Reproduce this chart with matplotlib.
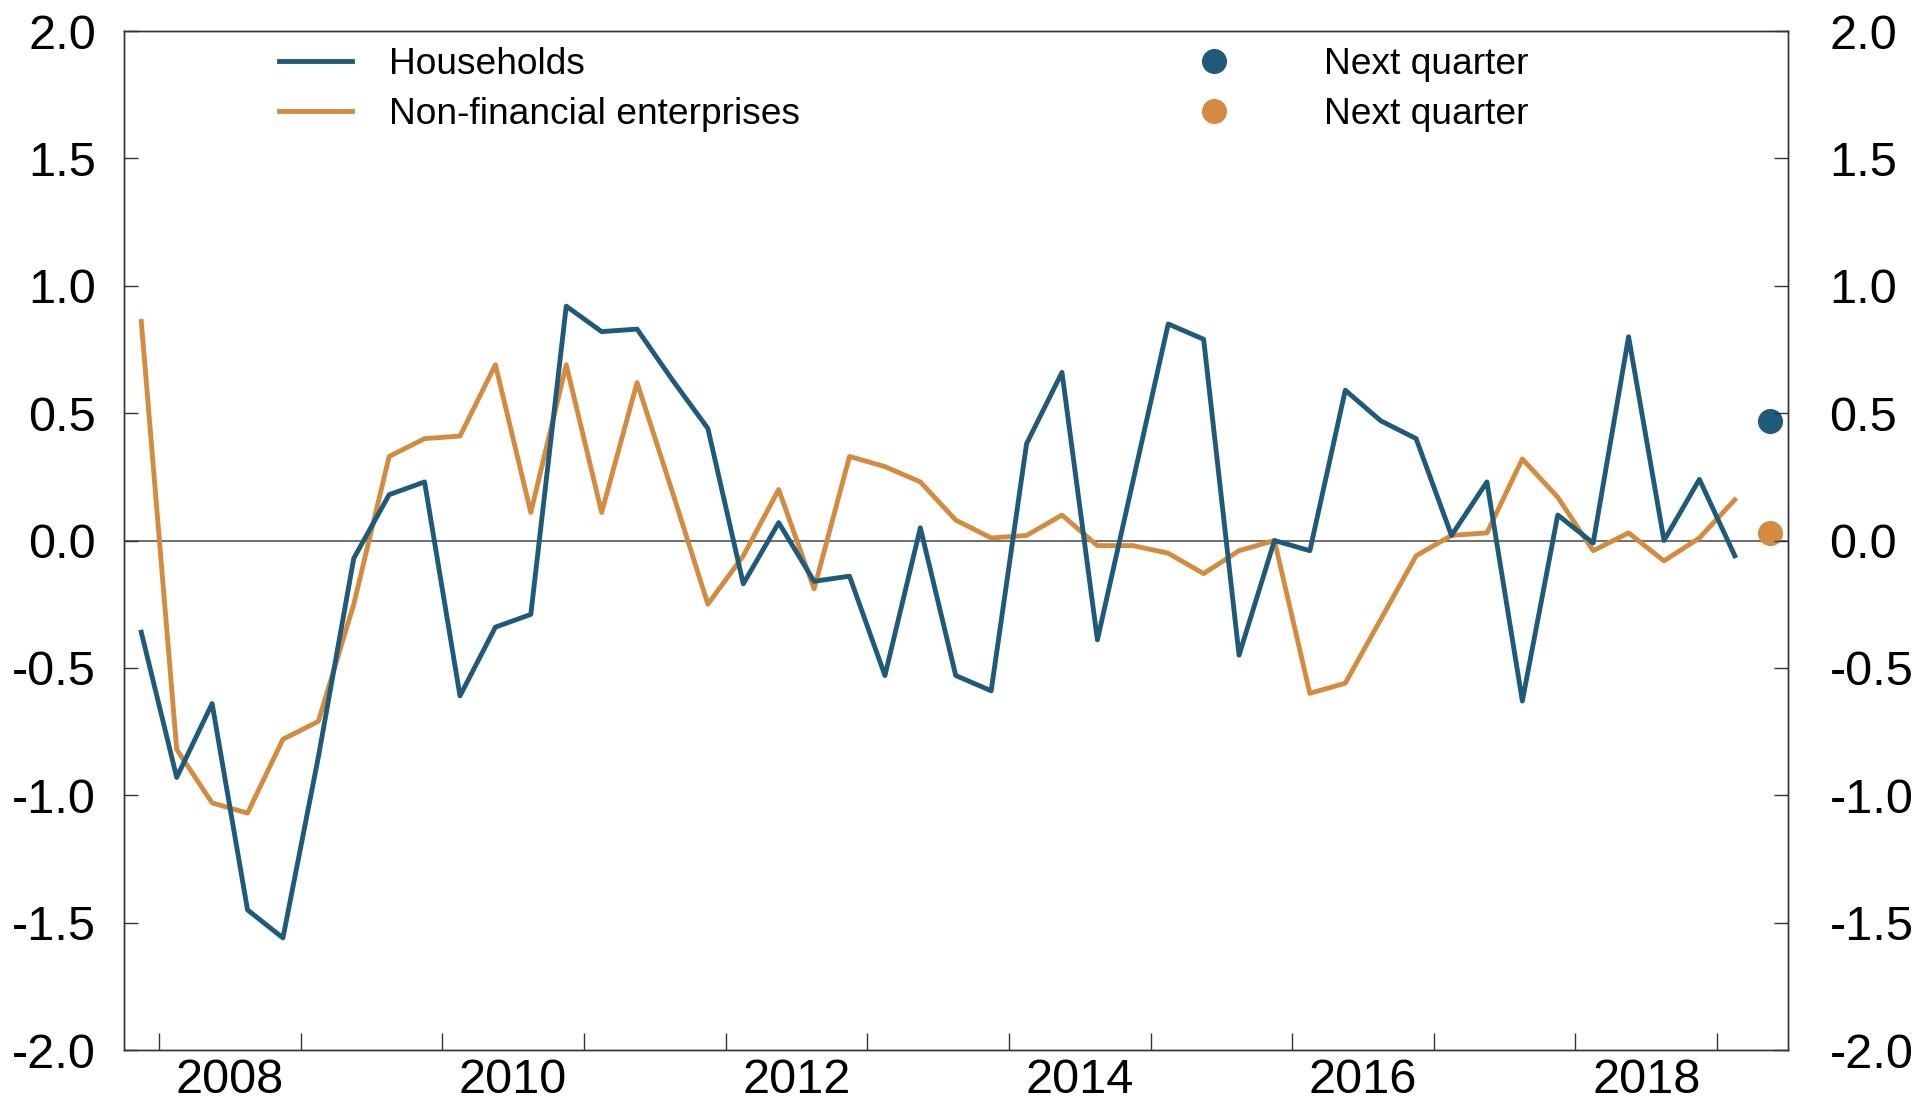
import numpy as np
import pandas as pd
import matplotlib
matplotlib.use("Agg")
import matplotlib.pyplot as plt
from matplotlib.lines import Line2D

plt.rcParams["font.family"] = ["Liberation Sans", "DejaVu Sans"]
plt.rcParams["axes.unicode_minus"] = False

# ── Data ───────
quarters = pd.period_range("2007Q4", "2019Q1", freq="Q")
households = [-0.36, -0.93, -0.64, -1.45, -1.56, -0.85, -0.07, 0.18, 0.23, -0.61,
              -0.34, -0.29, 0.92, 0.82, 0.83, 0.63, 0.44, -0.17, 0.07, -0.16,
              -0.14, -0.53, 0.05, -0.53, -0.59, 0.38, 0.66, -0.39, 0.23, 0.85,
              0.79, -0.45, 0.00, -0.04, 0.59, 0.47, 0.40, 0.02, 0.23, -0.63,
              0.10, -0.01, 0.80, 0.00, 0.24, -0.06]
enterprises = [0.86, -0.82, -1.03, -1.07, -0.78, -0.71, -0.25, 0.33, 0.40, 0.41,
               0.69, 0.11, 0.69, 0.11, 0.62, 0.19, -0.25, -0.06, 0.20, -0.19,
               0.33, 0.29, 0.23, 0.08, 0.01, 0.02, 0.10, -0.02, -0.02, -0.05,
               -0.13, -0.04, 0.00, -0.60, -0.56, -0.31, -0.06, 0.02, 0.03, 0.32,
               0.17, -0.04, 0.03, -0.08, 0.01, 0.16]
next_quarter = pd.Period("2019Q2", freq="Q")
households_next = 0.47
enterprises_next = 0.03

year_labels = [2008, 2010, 2012, 2014, 2016, 2018]
y_ticks = [-2.0, -1.5, -1.0, -0.5, 0.0, 0.5, 1.0, 1.5, 2.0]

# ── Colors ──────
C_HH = "#205a7a"
C_NFE = "#d38c3f"
LW = 3.5
FS_TICK = 35
FS_LEG = 26.7


def mid_year(p):
    return p.year + (p.quarter - 0.5) / 4


x = [mid_year(p) for p in quarters]
x_next = mid_year(next_quarter)

fig = plt.figure(figsize=(19.19, 11.04), dpi=100)
ax = fig.add_axes([0.0644, 0.0489, 0.8673, 0.9230])

ax.axhline(0, color="#555555", linewidth=1.2, zorder=1)
ax.plot(x, households, color=C_HH, linewidth=LW, zorder=3)
ax.plot(x, enterprises, color=C_NFE, linewidth=LW, zorder=2)
ax.plot([x_next], [households_next], "o", color=C_HH, markersize=17, zorder=4)
ax.plot([x_next], [enterprises_next], "o", color=C_NFE, markersize=17, zorder=4)

ax.set_xlim(2007.75, 2019.5)
ax.set_ylim(-2.0, 2.0)

# year boundaries as ticks, labels in the middle of the year
ax.set_xticks(list(range(2008, 2020)))
ax.set_xticklabels([])
ax.set_xticks([y + 0.5 for y in year_labels], minor=True)
ax.set_xticklabels([str(y) for y in year_labels], minor=True)
ax.tick_params(axis="x", which="major", direction="in", length=12, width=1, color="#333333")
ax.tick_params(axis="x", which="minor", length=0, pad=6, labelsize=FS_TICK)

ax.set_yticks(y_ticks)
ax.set_yticklabels([f"{v:.1f}" for v in y_ticks])
ax.tick_params(axis="y", direction="in", length=10, width=1, color="#333333",
               pad=20, labelsize=FS_TICK)

ax2 = ax.twinx()
ax2.set_ylim(ax.get_ylim())
ax2.set_yticks(y_ticks)
ax2.set_yticklabels([f"{v:.1f}" for v in y_ticks])
ax2.tick_params(axis="y", direction="in", length=10, width=1, color="#333333",
                pad=30, labelsize=FS_TICK)

for a in (ax, ax2):
    for s in a.spines.values():
        s.set_color("#333333")
        s.set_linewidth(1.0)

# ── Legends ───────
line_handles = [Line2D([], [], color=C_HH, linewidth=LW),
                Line2D([], [], color=C_NFE, linewidth=LW)]
leg1 = ax2.legend(line_handles, ["Households", "Non-financial enterprises"],
                  loc="upper left", bbox_to_anchor=(0.1454, 0.957),
                  bbox_transform=fig.transFigure, frameon=False, fontsize=FS_LEG,
                  handlelength=1.98, handletextpad=0.99, labelspacing=0.38,
                  borderpad=0, borderaxespad=0)
ax2.add_artist(leg1)

dot_handles = [Line2D([], [], color=C_HH, marker="o", linestyle="none", markersize=17),
               Line2D([], [], color=C_NFE, marker="o", linestyle="none", markersize=17)]
ax2.legend(dot_handles, ["Next quarter", "Next quarter"],
           loc="upper left", bbox_to_anchor=(0.6133, 0.957),
           bbox_transform=fig.transFigure, frameon=False, fontsize=FS_LEG,
           handlelength=2.0, handletextpad=1.97, labelspacing=0.38,
           borderpad=0, borderaxespad=0)

plt.savefig("out.png", dpi=100)
